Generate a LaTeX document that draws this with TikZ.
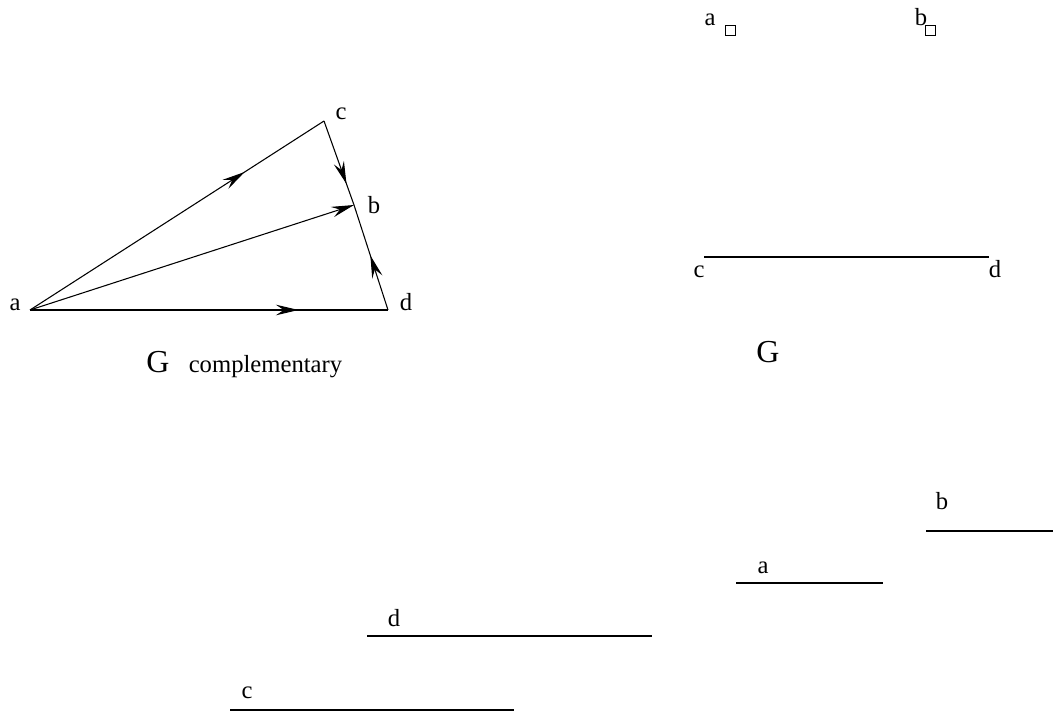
\documentclass[tikz,border=0pt]{standalone}
\usepackage{fontspec}
\setmainfont{Liberation Serif}
\usetikzlibrary{arrows.meta,decorations.markings}

\begin{document}
\begin{tikzpicture}[x=0.75pt, y=-0.75pt, line width=0.8pt,
  >={Stealth[length=17pt, width=8pt, inset=6pt]},
  every node/.style={inner sep=0pt, anchor=base, font=\fontsize{18.5}{20}\selectfont},
  big/.style={font=\fontsize{24}{28}\selectfont},
  midarrow/.style={postaction={decorate}, decoration={markings, mark=at position #1 with {\arrow{>}}}},
  box/.style={draw, line width=0.6pt, anchor=center, minimum size=8pt}]
    \useasboundingbox (0,0) rectangle (1053,712);

    \coordinate (a) at (30,310);
    \coordinate (c) at (324,121);
    \coordinate (b) at (354,205);
    \coordinate (d) at (388,310);
    \node (alab) at (15,311) {a};
    \node (clab) at (341,120) {c};
    \node (blab) at (374,214) {b};
    \node (dlab) at (406,311) {d};
    \draw[midarrow=0.73] (a) -- (c);
    \draw[->] (a) -- (b);
    \draw[midarrow=0.75] (a) -- (d);
    \draw[midarrow=0.75] (c) -- (b);
    \draw[midarrow=0.52] (d) -- (b);
    \node[big] (gcomp) at (158,373) {G};
    \node (comp) at (265.5,373) {complementary};

    \node (ra) at (710,26) {a};
    \node[box] (rasq) at (730.5,30.5) {};
    \node (rb) at (921,26) {b};
    \node[box] (rbsq) at (930.5,30.5) {};
    \node (rc) at (699,278) {c};
    \node (rd) at (995,278) {d};
    \coordinate (cdl) at (704,257);
    \coordinate (cdr) at (989,257);
    \draw (cdl) -- (cdr);
    \node[big] (g) at (768,363) {G};

    \node (bb) at (942,510) {b};
    \coordinate (bl) at (926,531);
    \coordinate (br) at (1053,531);
    \draw (bl) -- (br);
    \node (ba) at (763,573) {a};
    \coordinate (al) at (736,583);
    \coordinate (ar) at (883,583);
    \draw (al) -- (ar);
    \node (bd) at (394,626) {d};
    \coordinate (dl) at (367,636);
    \coordinate (dr) at (652,636);
    \draw (dl) -- (dr);
    \node (bc) at (247,698) {c};
    \coordinate (cl) at (230,710);
    \coordinate (cr) at (514,710);
    \draw (cl) -- (cr);
\end{tikzpicture}
\end{document}
